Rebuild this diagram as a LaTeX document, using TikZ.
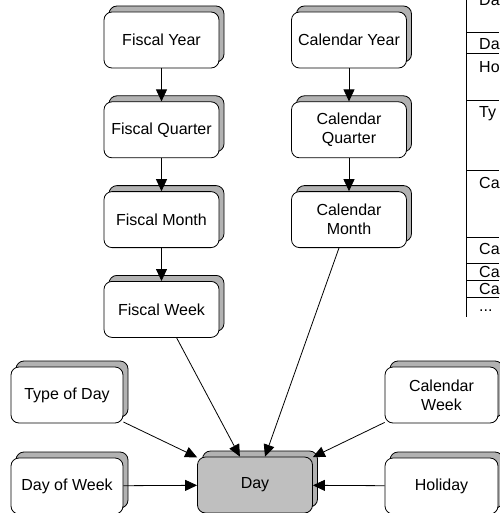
\documentclass[tikz,border=0pt]{standalone}
\usepackage{fontspec}
\setmainfont{Liberation Sans}
\usetikzlibrary{arrows.meta,positioning,shadows}
\tikzset{>/.tip={Triangle[length=12pt,width=11pt]}}
\tikzset{ent/.style={draw,line width=0.8pt,rounded corners=8pt,fill=white,
    minimum width=115pt,minimum height=56pt,inner sep=0pt,align=center,
    copy shadow={shadow xshift=5pt,shadow yshift=6pt,fill=gray!60,draw=black,line width=0.8pt}}}
\tikzset{keyent/.style={ent,fill=gray!50}}
\tikzset{rowtxt/.style={anchor=base west,inner sep=0pt}}

\begin{document}
\begin{tikzpicture}[x=1pt,y=-1pt,node distance=33pt,font=\fontsize{16pt}{19pt}\selectfont]
        \useasboundingbox (0,0) rectangle (499,513);
        % fiscal side
        \node(fy)[ent] at (161.5,40){Fiscal Year};
        \node(fq)[ent,below=of fy]{Fiscal Quarter};
        \node(fm)[ent,below=of fq]{Fiscal Month};
        \node(fw)[ent,below=of fm]{Fiscal Week};
        % calendar side
        \node(cy)[ent] at (349,40){Calendar Year};
        \node(cq)[ent,below=of cy]{Calendar\\Quarter};
        \node(cm)[ent,below=of cq]{Calendar\\Month};
        % bottom
        \node(day)[keyent] at (255,485){Day};
        \node(td)[ent,minimum width=112pt] at (67,395){Type of Day};
        \node(dw)[ent,minimum width=112pt] at (67,486){Day of Week};
        \node(cw)[ent,minimum width=113pt] at (441.5,395){Calendar\\Week};
        \node(hol)[ent,minimum width=113pt] at (441.5,486){Holiday};
        \draw[->,line width=0.8pt]
        (fy) edge (fq)
        (fq) edge (fm)
        (fm) edge (fw)
        (cy) edge (cq)
        (cq) edge (cm)
        (fw) edge (day)
        (cm) edge (day)
        (td) edge (day)
        (dw) edge (day)
        (cw) edge (day)
        (hol) edge (day);
        % attribute list at the right
        \draw[line width=0.8pt] (466,0) -- (466,317);
        \foreach \y in {32,53,100,170,237,263,280,297}
          \draw[line width=0.8pt] (466,\y) -- (499,\y);
        \foreach \y/\t [count=\i] in {6/Da,50/Da,73/Ho,118/Ty,188/Ca,254/Ca,277.5/Ca,294.5/Ca}
          \node(r\i)[rowtxt] at (479,\y){\t};
        \node(rmore)[rowtxt] at (479,311){.{}.{}.};
\end{tikzpicture}
\end{document}
